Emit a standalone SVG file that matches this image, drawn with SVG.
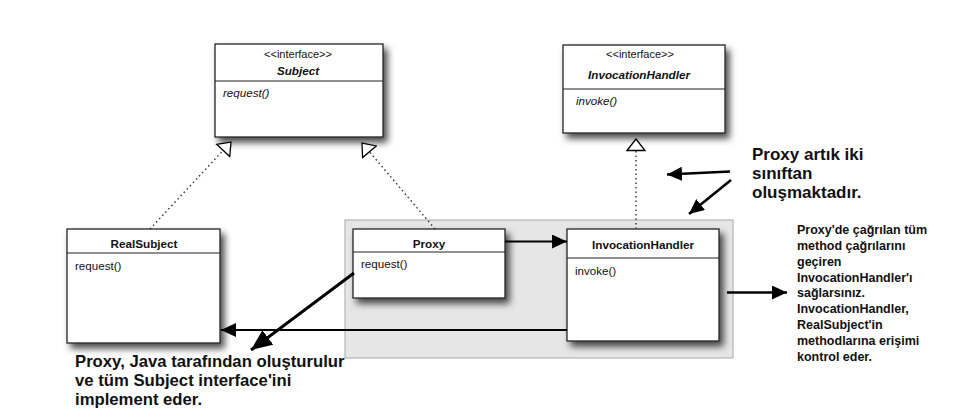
<svg xmlns="http://www.w3.org/2000/svg" width="978" height="414" viewBox="0 0 978 414">
<style>
text{font-family:"Liberation Sans",Arial,Helvetica,sans-serif;fill:#111}
.box{fill:#fff;stroke:#222;stroke-width:1.3}
.div{stroke:#222;stroke-width:1.2}
.st{font-size:11px;text-anchor:middle}
.nm{font-size:11.7px;font-weight:bold;text-anchor:middle}
.it{font-style:italic}
.op{font-size:11.6px}
.dot{stroke:#333;stroke-width:1.4;stroke-dasharray:1.5 3;fill:none}
.ln{stroke:#000;fill:none}
.big{font-size:17px;font-weight:bold}
.sm{font-size:12.5px;font-weight:bold}
</style>
<defs>
<filter id="sh" x="-10%" y="-10%" width="130%" height="140%">
<feDropShadow dx="4" dy="5" stdDeviation="3.5" flood-color="#000" flood-opacity="0.7"/>
</filter>
<marker id="tri" markerUnits="userSpaceOnUse" markerWidth="14" markerHeight="20" viewBox="0 0 14 20" refX="12.5" refY="10" orient="auto">
<path d="M1,1 L12.5,10 L1,19 z" fill="#fff" stroke="#000" stroke-width="1.3"/>
</marker>
<marker id="ah" markerUnits="userSpaceOnUse" markerWidth="16" markerHeight="14" viewBox="0 0 16 14" refX="15" refY="7" orient="auto">
<path d="M0,0 L15,7 L0,14 z" fill="#000"/>
</marker>
<marker id="ahb" markerUnits="userSpaceOnUse" markerWidth="22" markerHeight="18" viewBox="0 0 22 18" refX="21" refY="9" orient="auto">
<path d="M0,0 L21,9 L0,18 z" fill="#000"/>
</marker>
</defs>
<rect width="978" height="414" fill="#fff"/>

<g id="proxy-group-bg">
<rect x="345" y="220" width="388" height="138" fill="#e6e6e6" stroke="#b5b5b5" stroke-width="1.2"/>
</g>

<g id="subject-interface">
<rect class="box" x="215" y="44" width="168" height="93" filter="url(#sh)"/>
<line class="div" x1="215" y1="81" x2="383" y2="81"/>
<text class="st" x="298" y="58">&lt;&lt;interface&gt;&gt;</text>
<text class="nm it" x="298" y="75">Subject</text>
<text class="op it" x="223" y="97">request()</text>
</g>

<g id="invocationhandler-interface">
<rect class="box" x="563" y="45" width="162" height="88" filter="url(#sh)"/>
<line class="div" x1="563" y1="89" x2="725" y2="89"/>
<text class="st" x="640" y="58">&lt;&lt;interface&gt;&gt;</text>
<text class="nm it" x="639" y="79">InvocationHandler</text>
<text class="op it" x="576" y="105">invoke()</text>
</g>

<g id="realsubject">
<rect class="box" x="67" y="229" width="153" height="114" filter="url(#sh)"/>
<line class="div" x1="67" y1="253" x2="220" y2="253"/>
<text class="nm" x="144" y="248">RealSubject</text>
<text class="op" x="75" y="270">request()</text>
</g>

<g id="proxy">
<rect class="box" x="353" y="229" width="152" height="69" filter="url(#sh)"/>
<line class="div" x1="353" y1="252" x2="505" y2="252"/>
<text class="nm" x="429" y="248">Proxy</text>
<text class="op" x="361" y="268">request()</text>
</g>

<g id="invocationhandler">
<rect class="box" x="567" y="229" width="152" height="112" filter="url(#sh)"/>
<line class="div" x1="567" y1="258" x2="719" y2="258"/>
<text class="nm" x="643" y="249">InvocationHandler</text>
<text class="op" x="575" y="275">invoke()</text>
</g>

<g id="connectors">
<line class="dot" x1="150" y1="229" x2="231" y2="142" marker-end="url(#tri)"/>
<line class="dot" x1="435" y1="229" x2="362" y2="143" marker-end="url(#tri)"/>
<line class="dot" x1="636" y1="229" x2="636" y2="139" marker-end="url(#tri)"/>
<line class="ln" stroke-width="2" x1="505" y1="241.5" x2="567" y2="241.5" marker-end="url(#ah)"/>
<line class="ln" stroke-width="2" x1="567" y1="330" x2="221" y2="330" marker-end="url(#ah)"/>
<line class="ln" stroke-width="3" x1="354" y1="273" x2="251" y2="350" marker-end="url(#ahb)"/>
<line class="ln" stroke-width="2.6" x1="730" y1="171.5" x2="667" y2="174.5" marker-end="url(#ah)"/>
<line class="ln" stroke-width="2.6" x1="731" y1="180" x2="689" y2="214" marker-end="url(#ah)"/>
<line class="ln" stroke-width="2.6" x1="727" y1="292.5" x2="787" y2="292.5" marker-end="url(#ah)"/>
</g>

<g id="note-proxy-two-classes">
<text class="big" x="752" y="160">Proxy artık iki</text>
<text class="big" x="752" y="179">sınıftan</text>
<text class="big" x="752" y="198">oluşmaktadır.</text>
</g>

<g id="note-invocationhandler">
<text class="sm" x="797" y="234">Proxy'de çağrılan tüm</text>
<text class="sm" x="797" y="250">method çağrılarını</text>
<text class="sm" x="797" y="266">geçiren</text>
<text class="sm" x="797" y="281.5">InvocationHandler'ı</text>
<text class="sm" x="797" y="297">sağlarsınız.</text>
<text class="sm" x="797" y="313">InvocationHandler,</text>
<text class="sm" x="797" y="329">RealSubject'in</text>
<text class="sm" x="797" y="345">methodlarına erişimi</text>
<text class="sm" x="797" y="361">kontrol eder.</text>
</g>

<g id="note-proxy-java">
<text class="big" style="font-size:16.7px" x="75" y="367">Proxy, Java tarafından oluşturulur</text>
<text class="big" style="font-size:16.7px" x="75" y="386">ve tüm Subject interface'ini</text>
<text class="big" style="font-size:16.7px" x="75" y="405">implement eder.</text>
</g>
</svg>
